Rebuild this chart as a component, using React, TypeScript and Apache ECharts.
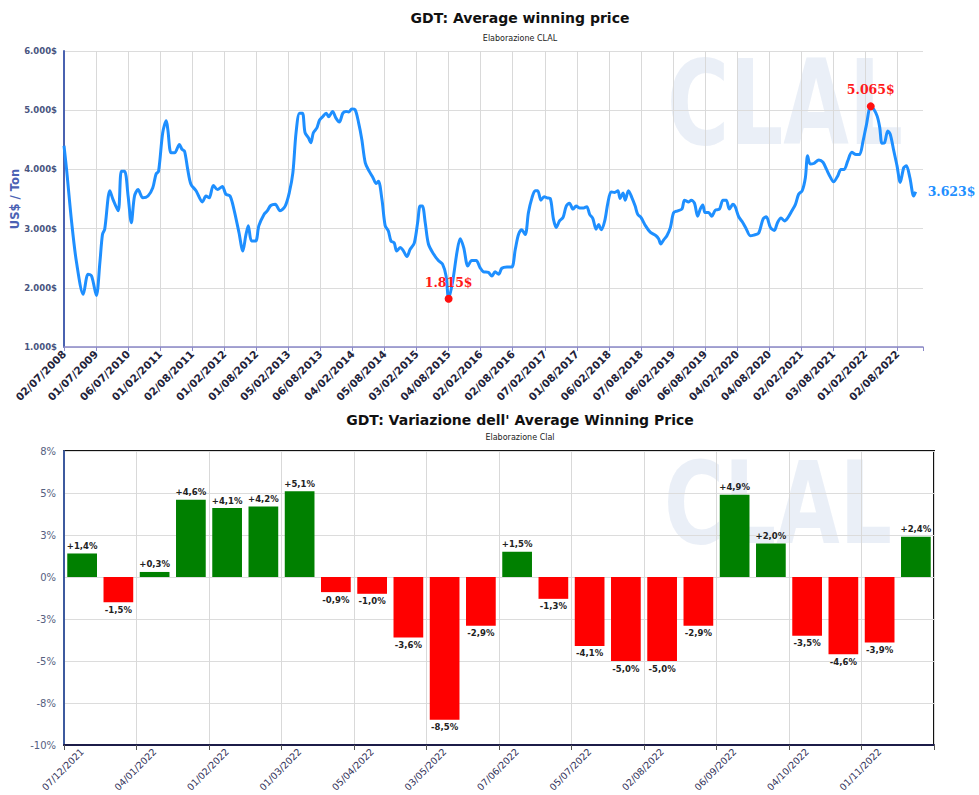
import React, { useEffect, useRef } from 'react';
import * as echarts from 'echarts';

// ---------- Top chart: GDT average winning price ----------
const priceTickLabels: string[] = [
  '02/07/2008', '01/07/2009', '06/07/2010', '01/02/2011', '02/08/2011', '01/02/2012',
  '01/08/2012', '05/02/2013', '06/08/2013', '04/02/2014', '05/08/2014', '03/02/2015',
  '04/08/2015', '02/02/2016', '02/08/2016', '07/02/2017', '01/08/2017', '06/02/2018',
  '07/08/2018', '06/02/2019', '06/08/2019', '04/02/2020', '04/08/2020', '02/02/2021',
  '03/08/2021', '01/02/2022', '02/08/2022',
];

// [position in tick-label units, US$/Ton]
const pricePoints: [number, number][] = [
  [0, 4400], [0.08, 4000], [0.24, 3100], [0.39, 2430], [0.6, 1890], [0.75, 2230], [0.86, 2200],
  [1.01, 1870], [1.12, 2430], [1.2, 2900], [1.27, 2990], [1.43, 3640], [1.53, 3490], [1.69, 3300],
  [1.79, 3970], [1.89, 3970], [2.0, 3550], [2.1, 3100], [2.2, 3550], [2.31, 3660], [2.46, 3520],
  [2.62, 3550], [2.77, 3690], [2.87, 3920], [2.95, 3970], [3.08, 4620], [3.19, 4820], [3.24, 4670],
  [3.34, 4280], [3.45, 4280], [3.6, 4420], [3.68, 4340], [3.76, 4310], [3.86, 4000], [3.96, 3750],
  [4.12, 3640], [4.32, 3450], [4.43, 3550], [4.53, 3520], [4.66, 3730], [4.79, 3660], [4.94, 3710],
  [5.05, 3580], [5.18, 3550], [5.3, 3330], [5.46, 2930], [5.58, 2620], [5.67, 2880], [5.75, 3050],
  [5.85, 2790], [5.98, 2790], [6.08, 3050], [6.24, 3240], [6.34, 3300], [6.45, 3390], [6.59, 3410],
  [6.74, 3300], [6.9, 3380], [7.03, 3610], [7.14, 3940], [7.24, 4620], [7.35, 4950], [7.44, 4950],
  [7.52, 4620], [7.63, 4530], [7.7, 4450], [7.78, 4620], [7.89, 4700], [7.97, 4830], [8.07, 4890],
  [8.18, 4950], [8.26, 4890], [8.38, 4980], [8.48, 4870], [8.59, 4800], [8.7, 4950], [8.8, 4980],
  [8.88, 4970], [8.98, 5020], [9.08, 5010], [9.19, 4790], [9.29, 4510], [9.4, 4110], [9.52, 3970],
  [9.64, 3860], [9.74, 3760], [9.81, 3800], [9.92, 3490], [10.02, 3050], [10.12, 2960], [10.2, 2790],
  [10.3, 2760], [10.38, 2620], [10.49, 2680], [10.57, 2640], [10.7, 2530], [10.8, 2650], [10.93, 2760],
  [11.04, 3130], [11.11, 3380], [11.18, 3380], [11.27, 3100], [11.37, 2740], [11.53, 2570], [11.68, 2460],
  [11.81, 2400], [11.92, 2200], [12.0, 1815], [12.13, 2120], [12.26, 2600], [12.36, 2830], [12.47, 2680],
  [12.6, 2370], [12.72, 2460], [12.86, 2460], [12.98, 2340], [13.09, 2270], [13.24, 2260], [13.35, 2200],
  [13.45, 2270], [13.56, 2230], [13.66, 2330], [13.82, 2350], [13.97, 2350], [14.08, 2650], [14.18, 2900],
  [14.28, 2980], [14.39, 2900], [14.49, 3270], [14.6, 3520], [14.7, 3640], [14.78, 3640], [14.88, 3480],
  [14.98, 3540], [15.07, 3520], [15.17, 3510], [15.27, 3160], [15.36, 3020], [15.46, 3130], [15.57, 3190],
  [15.67, 3380], [15.77, 3430], [15.88, 3330], [15.98, 3380], [16.09, 3350], [16.21, 3350], [16.31, 3370],
  [16.4, 3240], [16.5, 3170], [16.6, 2990], [16.68, 3070], [16.76, 2980], [16.87, 3130], [16.97, 3440],
  [17.07, 3620], [17.18, 3610], [17.28, 3640], [17.35, 3510], [17.44, 3600], [17.51, 3480], [17.61, 3640],
  [17.72, 3520], [17.82, 3380], [17.9, 3240], [18.0, 3190], [18.14, 3050], [18.29, 2940], [18.47, 2880],
  [18.55, 2830], [18.62, 2740], [18.71, 2810], [18.81, 2880], [18.92, 3020], [19.02, 3270], [19.15, 3300],
  [19.28, 3330], [19.36, 3480], [19.49, 3450], [19.57, 3480], [19.67, 3430], [19.77, 3210], [19.85, 3330],
  [19.93, 3400], [20.0, 3270], [20.11, 3270], [20.21, 3210], [20.32, 3310], [20.45, 3330], [20.56, 3480],
  [20.66, 3480], [20.76, 3330], [20.87, 3410], [20.94, 3370], [21.05, 3200], [21.18, 3100], [21.29, 2990],
  [21.41, 2880], [21.52, 2890], [21.67, 2920], [21.81, 3160], [21.91, 3200], [22.04, 3020], [22.16, 2970],
  [22.26, 3100], [22.37, 3180], [22.48, 3130], [22.59, 3190], [22.71, 3300], [22.82, 3410], [22.92, 3580],
  [23.03, 3640], [23.13, 3860], [23.2, 4230], [23.28, 4090], [23.39, 4100], [23.55, 4160], [23.68, 4120],
  [23.79, 4000], [23.89, 3890], [24.01, 3790], [24.14, 3890], [24.24, 4000], [24.34, 4000], [24.45, 4140],
  [24.58, 4290], [24.71, 4250], [24.82, 4250], [24.93, 4480], [25.03, 4740], [25.17, 5065], [25.26, 5020],
  [25.37, 4900], [25.45, 4710], [25.52, 4440], [25.6, 4450], [25.7, 4650], [25.78, 4590], [25.89, 4310],
  [25.99, 4060], [26.09, 3780], [26.2, 4030], [26.28, 4060], [26.39, 3860], [26.51, 3550], [26.57, 3623],
];

// ---------- Bottom chart: variation of the average winning price ----------
const changeLabelDates: string[] = [
  '07/12/2021', '04/01/2022', '01/02/2022', '01/03/2022', '05/04/2022', '03/05/2022',
  '07/06/2022', '05/07/2022', '02/08/2022', '06/09/2022', '04/10/2022', '01/11/2022',
];
const changeValues: number[] = [
  1.4, -1.5, 0.3, 4.6, 4.1, 4.2, 5.1, -0.9, -1.0, -3.6, -8.5, -2.9,
  1.5, -1.3, -4.1, -5.0, -5.0, -2.9, 4.9, 2.0, -3.5, -4.6, -3.9, 2.4,
];

const fmtPrice = (v: number) =>
  Math.floor(v / 1000) + '.' + String(Math.round(v % 1000)).padStart(3, '0') + '$';
const fmtChange = (v: number) => (v > 0 ? '+' : '') + v.toFixed(1).replace('.', ',') + '%';

// faint logo watermark, drawn as an image
const logoSvg =
  '<svg xmlns="http://www.w3.org/2000/svg" width="240" height="100" viewBox="0 0 240 100">' +
  '<text x="120" y="92" text-anchor="middle" font-family="DejaVu Sans" font-weight="bold" ' +
  'font-size="118" textLength="236" lengthAdjust="spacingAndGlyphs" fill="#c3d0e8" fill-opacity="0.35">CLAL</text></svg>';
const logoUrl = 'data:image/svg+xml;charset=utf-8,' + encodeURIComponent(logoSvg);

export default function App() {
  const ref = useRef<HTMLDivElement>(null);

  useEffect(() => {
    if (!ref.current) return;
    const chart = echarts.init(ref.current, undefined, { renderer: 'svg' });

    const categories = changeValues.map((_, i) => (i % 2 === 0 ? changeLabelDates[i / 2] : ''));
    const sans = '"DejaVu Sans", Verdana, sans-serif';
    const center = { align: 'center', verticalAlign: 'middle', textAlign: 'center', textVerticalAlign: 'middle' };

    const option: any = {
      animation: false,
      textStyle: { fontFamily: sans },
      graphic: [
        { type: 'image', z: -10, silent: true, style: { image: logoUrl, x: 665, y: 52, width: 240, height: 100 } },
        { type: 'image', z: -10, silent: true, style: { image: logoUrl, x: 662, y: 452, width: 232, height: 100 } },
        { type: 'text', x: 520, y: 18, style: { text: 'GDT: Average winning price', font: 'bold 14px ' + sans, fill: '#111', ...center } },
        { type: 'text', x: 520, y: 38, style: { text: 'Elaborazione CLAL', font: '8px ' + sans, fill: '#222', ...center } },
        { type: 'text', x: 520, y: 420, style: { text: "GDT: Variazione dell' Average Winning Price", font: 'bold 14px ' + sans, fill: '#111', ...center } },
        { type: 'text', x: 520, y: 437, style: { text: 'Elaborazione Clal', font: '8px ' + sans, fill: '#222', ...center } },
      ],
      grid: [
        { left: 64, top: 51, width: 859, height: 296, outerBoundsMode: 'none', containLabel: false },
        { left: 64, top: 451, width: 870, height: 294, show: true, borderColor: '#111', borderWidth: 2, outerBoundsMode: 'none', containLabel: false },
      ],
      xAxis: [
        {
          gridIndex: 0, type: 'value', min: 0, max: 26.8, interval: 1,
          axisLine: { onZero: false, lineStyle: { color: '#8a88c8', width: 1.5 } },
          axisTick: { show: true, length: 4, lineStyle: { color: '#8a88c8' } },
          axisLabel: {
            rotate: 45, margin: 5, fontSize: 10.5, fontWeight: 'bold', color: '#23233a',
            formatter: (v: number) => (Number.isInteger(v) && priceTickLabels[v]) ? priceTickLabels[v] : '',
          },
          splitLine: { show: true, showMinLine: false, showMaxLine: false, lineStyle: { color: '#d9d9d9' } },
        },
        {
          gridIndex: 1, type: 'category', data: categories, boundaryGap: true,
          axisLine: { onZero: false, lineStyle: { color: '#1c1c48', width: 2 } },
          axisTick: { show: true, interval: 1, length: 5, lineStyle: { color: '#555' } },
          axisLabel: { interval: 1, rotate: 45, margin: 5, fontSize: 9.5, color: '#33335a' },
          splitLine: { show: true, interval: 1, lineStyle: { color: '#d9d9d9' } },
        },
      ],
      yAxis: [
        {
          gridIndex: 0, type: 'value', min: 1000, max: 6000, interval: 1000,
          axisLine: { show: true, onZero: false, lineStyle: { color: '#4a62b0', width: 2 } },
          axisTick: { show: false },
          axisLabel: { formatter: fmtPrice, fontSize: 8.5, fontWeight: 'bold', color: '#4a5580', margin: 7 },
          splitLine: { show: true, lineStyle: { color: '#dcdcdc' } },
          name: 'US$ / Ton', nameLocation: 'middle', nameGap: 43, nameRotate: 90, nameMoveOverlap: false,
          nameTextStyle: { fontSize: 11.5, fontWeight: 'bold', color: '#4b62b4' },
        },
        {
          gridIndex: 1, type: 'value', min: -10, max: 7.5, interval: 2.5,
          axisLine: { show: true, onZero: false, lineStyle: { color: '#3d5a9e', width: 2 } },
          axisTick: { show: false },
          axisLabel: {
            fontSize: 10, color: '#56607f', margin: 8,
            formatter: (v: number) => (v < 0 ? '-' : '') + Math.round(Math.abs(v)) + '%',
          },
          splitLine: { show: true, lineStyle: { color: '#dcdcdc' } },
        },
      ],
      series: [
        {
          type: 'line', xAxisIndex: 0, yAxisIndex: 0, data: pricePoints, z: 3,
          smooth: 0.3, showSymbol: false, symbol: 'none',
          lineStyle: { color: '#1e8fff', width: 3 },
          endLabel: {
            show: true, distance: 12, color: '#1e8fff', fontSize: 12.5, fontWeight: 'bold',
            fontFamily: '"DejaVu Serif", serif',
            formatter: (p: any) => fmtPrice(p.value[1]),
          },
          markPoint: {
            symbol: 'circle', symbolSize: 8, itemStyle: { color: '#ff1010' },
            label: {
              show: true, position: 'top', distance: 6, color: '#ff1a1a', fontSize: 12.5,
              fontWeight: 'bold', fontFamily: '"DejaVu Serif", serif',
              formatter: (p: any) => fmtPrice(p.value),
            },
            data: [{ type: 'min' }, { type: 'max' }],
          },
        },
        {
          type: 'bar', xAxisIndex: 1, yAxisIndex: 1, barWidth: '82%', z: 3,
          data: changeValues.map((v) => ({
            value: v,
            itemStyle: { color: v >= 0 ? '#008000' : '#ff0000' },
            label: { position: v >= 0 ? 'top' : 'bottom' },
          })),
          label: {
            show: true, distance: 3, fontSize: 8.5, fontWeight: 'bold', color: '#222',
            formatter: (p: any) => fmtChange(p.value),
          },
        },
      ],
    };

    chart.setOption(option);
    return () => chart.dispose();
  }, []);

  return <div ref={ref} style={{ position: 'absolute', left: 0, top: 0, width: 979, height: 795, background: '#fff' }} />;
}
